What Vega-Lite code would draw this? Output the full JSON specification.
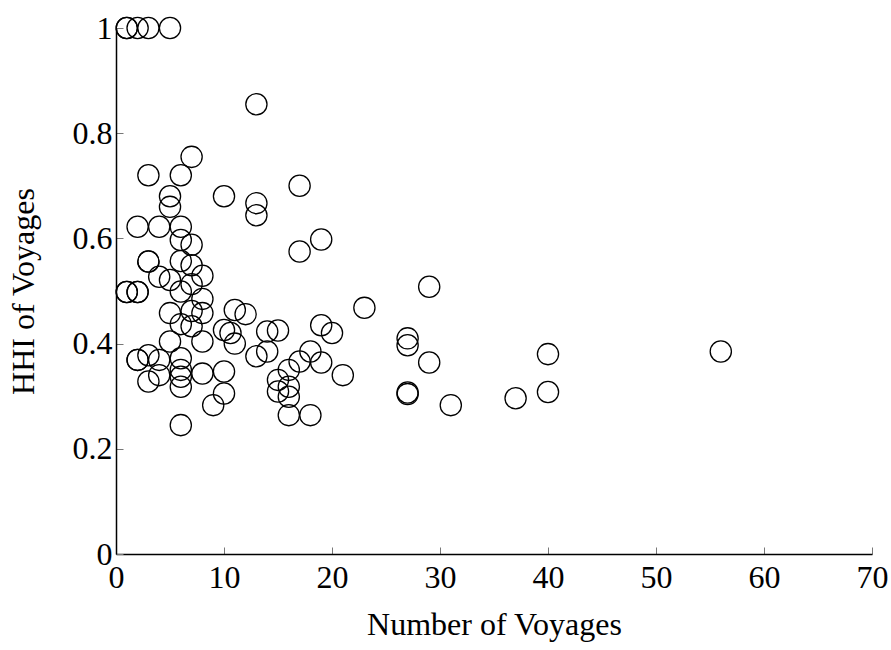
{
  "$schema": "https://vega.github.io/schema/vega-lite/v6.json",
  "width": 756,
  "height": 526,
  "autosize": "none",
  "padding": {"left": 116, "top": 28, "right": 19, "bottom": 96},
  "background": "white",
  "config": {
    "view": {"stroke": null},
    "font": "Liberation Serif",
    "axis": {
      "labelFont": "Liberation Serif",
      "titleFont": "Liberation Serif",
      "labelFontSize": 32,
      "titleFontSize": 32,
      "titleFontWeight": "normal",
      "labelColor": "black",
      "titleColor": "black",
      "domainColor": "black",
      "domainWidth": 1.5,
      "tickColor": "#777777",
      "tickWidth": 1,
      "tickSize": -7,
      "grid": false
    }
  },
  "data": {
    "values": [
      {"n": 1, "hhi": 1}, {"n": 1, "hhi": 1}, {"n": 2, "hhi": 1}, {"n": 3, "hhi": 1}, {"n": 5, "hhi": 1},
      {"n": 13, "hhi": 0.855},
      {"n": 7, "hhi": 0.755},
      {"n": 3, "hhi": 0.72}, {"n": 6, "hhi": 0.72},
      {"n": 17, "hhi": 0.70},
      {"n": 5, "hhi": 0.68}, {"n": 10, "hhi": 0.68},
      {"n": 13, "hhi": 0.667}, {"n": 13, "hhi": 0.644},
      {"n": 5, "hhi": 0.66},
      {"n": 2, "hhi": 0.622}, {"n": 4, "hhi": 0.622}, {"n": 6, "hhi": 0.622},
      {"n": 6, "hhi": 0.597}, {"n": 19, "hhi": 0.598},
      {"n": 7, "hhi": 0.588},
      {"n": 17, "hhi": 0.575},
      {"n": 3, "hhi": 0.556}, {"n": 3, "hhi": 0.556}, {"n": 6, "hhi": 0.557},
      {"n": 7, "hhi": 0.549},
      {"n": 4, "hhi": 0.527}, {"n": 8, "hhi": 0.529},
      {"n": 5, "hhi": 0.521},
      {"n": 7, "hhi": 0.513},
      {"n": 29, "hhi": 0.508},
      {"n": 1, "hhi": 0.498}, {"n": 1, "hhi": 0.498}, {"n": 2, "hhi": 0.498}, {"n": 2, "hhi": 0.498}, {"n": 6, "hhi": 0.499},
      {"n": 8, "hhi": 0.485},
      {"n": 23, "hhi": 0.468},
      {"n": 7, "hhi": 0.462},
      {"n": 11, "hhi": 0.464}, {"n": 12, "hhi": 0.456},
      {"n": 5, "hhi": 0.458}, {"n": 8, "hhi": 0.458},
      {"n": 6, "hhi": 0.437}, {"n": 7, "hhi": 0.433},
      {"n": 19, "hhi": 0.435}, {"n": 20, "hhi": 0.42},
      {"n": 10, "hhi": 0.426}, {"n": 10.6, "hhi": 0.42},
      {"n": 14, "hhi": 0.423}, {"n": 15, "hhi": 0.425},
      {"n": 8, "hhi": 0.404}, {"n": 5, "hhi": 0.404}, {"n": 11, "hhi": 0.40},
      {"n": 27, "hhi": 0.41}, {"n": 27, "hhi": 0.397},
      {"n": 3, "hhi": 0.378},
      {"n": 13, "hhi": 0.376}, {"n": 14, "hhi": 0.385},
      {"n": 18, "hhi": 0.385}, {"n": 19, "hhi": 0.364},
      {"n": 17, "hhi": 0.366}, {"n": 16, "hhi": 0.35},
      {"n": 56, "hhi": 0.385},
      {"n": 40, "hhi": 0.38},
      {"n": 29, "hhi": 0.364},
      {"n": 21, "hhi": 0.34},
      {"n": 2, "hhi": 0.369}, {"n": 2, "hhi": 0.369}, {"n": 4, "hhi": 0.369},
      {"n": 6, "hhi": 0.372}, {"n": 6, "hhi": 0.35}, {"n": 6, "hhi": 0.337}, {"n": 6, "hhi": 0.318},
      {"n": 3, "hhi": 0.328}, {"n": 4, "hhi": 0.34}, {"n": 8, "hhi": 0.343}, {"n": 10, "hhi": 0.347},
      {"n": 10, "hhi": 0.305},
      {"n": 9, "hhi": 0.283},
      {"n": 6, "hhi": 0.245},
      {"n": 15, "hhi": 0.331}, {"n": 15, "hhi": 0.309},
      {"n": 16, "hhi": 0.318}, {"n": 16, "hhi": 0.299},
      {"n": 16, "hhi": 0.264}, {"n": 18, "hhi": 0.264},
      {"n": 27, "hhi": 0.307}, {"n": 27, "hhi": 0.304},
      {"n": 31, "hhi": 0.283},
      {"n": 37, "hhi": 0.296},
      {"n": 40, "hhi": 0.308}
    ]
  },
  "mark": {"type": "point", "shape": "circle", "filled": false, "stroke": "black", "strokeWidth": 1.3, "size": 450, "opacity": 1, "clip": false},
  "encoding": {
    "x": {
      "field": "n", "type": "quantitative",
      "scale": {"domain": [0, 70], "nice": false, "zero": true},
      "axis": {"title": "Number of Voyages", "values": [0, 10, 20, 30, 40, 50, 60, 70], "format": "d", "labelFontSize": 32, "titleFontSize": 32, "labelPadding": 15, "titlePadding": 16, "labelFlush": false}
    },
    "y": {
      "field": "hhi", "type": "quantitative",
      "scale": {"domain": [0, 1], "nice": false},
      "axis": {"title": "HHI of Voyages", "values": [0, 0.2, 0.4, 0.6, 0.8, 1], "format": "~g", "labelFontSize": 32, "titleFontSize": 32, "labelPadding": 11, "titlePadding": 32, "labelFlush": false}
    }
  }
}
